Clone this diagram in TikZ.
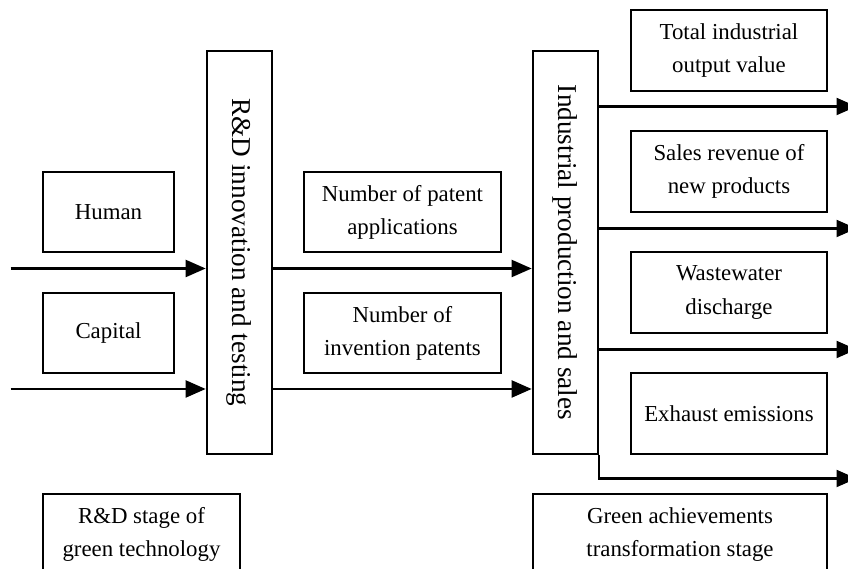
\documentclass[tikz,border=0pt]{standalone}
\usepackage{fontspec}
\setmainfont{Liberation Serif}
\usetikzlibrary{arrows.meta}

\begin{document}
\begin{tikzpicture}[line width=1.25pt,
  box/.style={draw, minimum width=2.61cm, minimum height=1.61cm, inner sep=0pt,
    align=center, font=\fontsize{13}{18.8}\selectfont},
  widebox/.style={box, minimum width=3.93cm},
  vbox/.style={draw, minimum width=1.31cm, minimum height=8.07cm, inner sep=0pt,
    font=\fontsize{15.5}{18}\selectfont},
  flow/.style={-{Triangle[length=0.4cm,width=0.34cm]}}]
\useasboundingbox (0,0) rectangle (16.96,11.38);

\draw (2.17,7.14) node[box] (human) {Human} ;
\draw (2.17,4.72) node[box] (capital) {Capital} ;

\draw (4.79,6.33) node[vbox] (rd) {\rotatebox{-90}{R\&D innovation and testing}} ;

\draw (8.05,7.14) node[widebox] (apply) {Number of patent\\applications} ;
\draw (8.05,4.72) node[widebox] (invent) {Number of\\invention patents} ;

\draw (11.31,6.33) node[vbox] (ind) {\rotatebox{-90}{Industrial production and sales}} ;

\draw (14.58,10.37) node[widebox] (output) {Total industrial\\output value} ;
\draw (14.58,7.95) node[widebox] (sales) {Sales revenue of\\new products} ;
\draw (14.58,5.53) node[widebox] (water) {Wastewater\\discharge} ;
\draw (14.58,3.11) node[widebox] (exhaust) {Exhaust emissions} ;

\draw (2.83,0.69) node[widebox] (rdstage) {R\&D stage of\\green technology} ;
\draw (13.60,0.69) node[widebox, minimum width=5.89cm] (greenstage) {Green achievements\\transformation stage} ;

\coordinate (in1) at (0.21,6.01) ;
\coordinate (in2) at (0.21,3.60) ;
\coordinate (out1) at (17.13,9.25) ;
\coordinate (out2) at (17.13,6.81) ;
\coordinate (out3) at (17.13,4.39) ;
\coordinate (out4) at (17.13,1.81) ;

\draw[flow] (in1) to (in1 -| rd.west) ;
\draw[flow] (in2) to (in2 -| rd.west) ;

\draw[flow] (in1 -| rd.east) to (in1 -| ind.west) ;
\draw[flow] (in2 -| rd.east) to (in2 -| ind.west) ;

\draw[flow] (out1 -| ind.east) to (out1) ;
\draw[flow] (out2 -| ind.east) to (out2) ;
\draw[flow] (out3 -| ind.east) to (out3) ;
\draw[flow] (ind.south east) -- (ind.south east |- out4) -- (out4) ;
\end{tikzpicture}
\end{document}
